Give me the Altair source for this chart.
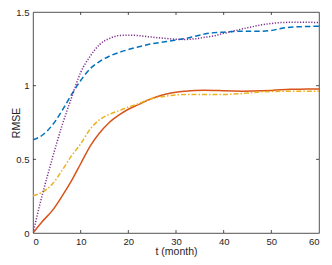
import altair as alt
import pandas as pd

t = list(range(0, 61, 2))
blue = [0.632, 0.665, 0.73, 0.825, 0.935, 1.035, 1.115, 1.165, 1.20, 1.225, 1.245,
        1.262, 1.278, 1.29, 1.30, 1.31, 1.32, 1.335, 1.35, 1.36, 1.363, 1.367,
        1.37, 1.37, 1.37, 1.375, 1.388, 1.397, 1.40, 1.402, 1.403]
red = [0.0, 0.08, 0.15, 0.245, 0.35, 0.47, 0.59, 0.68, 0.75, 0.80, 0.84,
       0.87, 0.90, 0.925, 0.943, 0.955, 0.962, 0.967, 0.969, 0.968, 0.965, 0.963,
       0.962, 0.963, 0.965, 0.968, 0.972, 0.975, 0.976, 0.977, 0.978]
yellow = [0.252, 0.278, 0.33, 0.42, 0.52, 0.605, 0.705, 0.77, 0.805, 0.83, 0.855,
          0.876, 0.903, 0.92, 0.93, 0.937, 0.94, 0.94, 0.94, 0.94, 0.94, 0.943,
          0.947, 0.953, 0.958, 0.96, 0.962, 0.962, 0.962, 0.962, 0.963]
purple = [0.0, 0.265, 0.50, 0.72, 0.91, 1.09, 1.20, 1.28, 1.32, 1.34, 1.343,
          1.34, 1.333, 1.326, 1.32, 1.315, 1.314, 1.318, 1.328, 1.338, 1.355, 1.37,
          1.386, 1.40, 1.413, 1.422, 1.428, 1.43, 1.43, 1.43, 1.428]

x_ticks = [0, 10, 20, 30, 40, 50, 60]
y_ticks = [0, 0.5, 1, 1.5]

W, H = 286, 221
FONT = "Liberation Sans"
INK = "#262626"

xs = alt.Scale(domain=[0, 60], nice=False)
ys = alt.Scale(domain=[0, 1.5], nice=False)

xaxis = alt.Axis(values=x_ticks, format="d", ticks=False, domain=False, grid=False,
                 labelFont=FONT, labelFontSize=9.5, labelColor=INK, labelPadding=3,
                 title="t (month)", titleFont=FONT, titleFontSize=10.5,
                 titleFontWeight="normal", titleColor=INK, titlePadding=1)
yaxis = alt.Axis(values=y_ticks, format="~g", ticks=False, domain=False, grid=False,
                 labelFont=FONT, labelFontSize=9.5, labelColor=INK, labelPadding=4,
                 title="RMSE", titleFont=FONT, titleFontSize=10.5,
                 titleFontWeight="normal", titleColor=INK,
                 titleX=-12, titleY=H / 2, titleAngle=270,
                 titleAlign="center", titleBaseline="bottom")

X = alt.X("t:Q", scale=xs, axis=xaxis)
Y = alt.Y("v:Q", scale=ys, axis=yaxis)

series = [
    ("blue", blue, "#0072BD", [5.5, 3]),
    ("red", red, "#D95319", None),
    ("yellow", yellow, "#EDB120", [5, 2, 1.5, 2]),
    ("purple", purple, "#7E2F8E", [1.2, 1.6]),
]

layers = []
for name, vals, col, dash in series:
    df = pd.DataFrame({"t": t, "v": vals})
    kw = dict(color=col, strokeWidth=1.5, interpolate="monotone", clip=True)
    if dash:
        kw["strokeDash"] = dash
    layers.append(alt.Chart(df).mark_line(**kw).encode(x=X, y=Y))

xt = pd.DataFrame({"t": x_ticks[1:-1]})
yt = pd.DataFrame({"v": y_ticks[1:-1]})
tick_style = dict(color=INK, strokeWidth=0.8)
layers += [
    alt.Chart(xt).mark_rule(**tick_style).encode(x=X, y=alt.value(H), y2=alt.value(H - 3)),
    alt.Chart(xt).mark_rule(**tick_style).encode(x=X, y=alt.value(0), y2=alt.value(3)),
    alt.Chart(yt).mark_rule(**tick_style).encode(y=Y, x=alt.value(0), x2=alt.value(3)),
    alt.Chart(yt).mark_rule(**tick_style).encode(y=Y, x=alt.value(W - 3), x2=alt.value(W)),
]

chart = alt.layer(*layers).properties(
    width=W, height=H,
    autosize=alt.AutoSizeParams(type="none"),
    padding={"left": 25, "top": 4, "right": 5, "bottom": 24},
    background="white",
).configure_view(stroke=INK, strokeWidth=0.8)

chart.save("out.html", embed_options={"renderer": "svg", "actions": False})
